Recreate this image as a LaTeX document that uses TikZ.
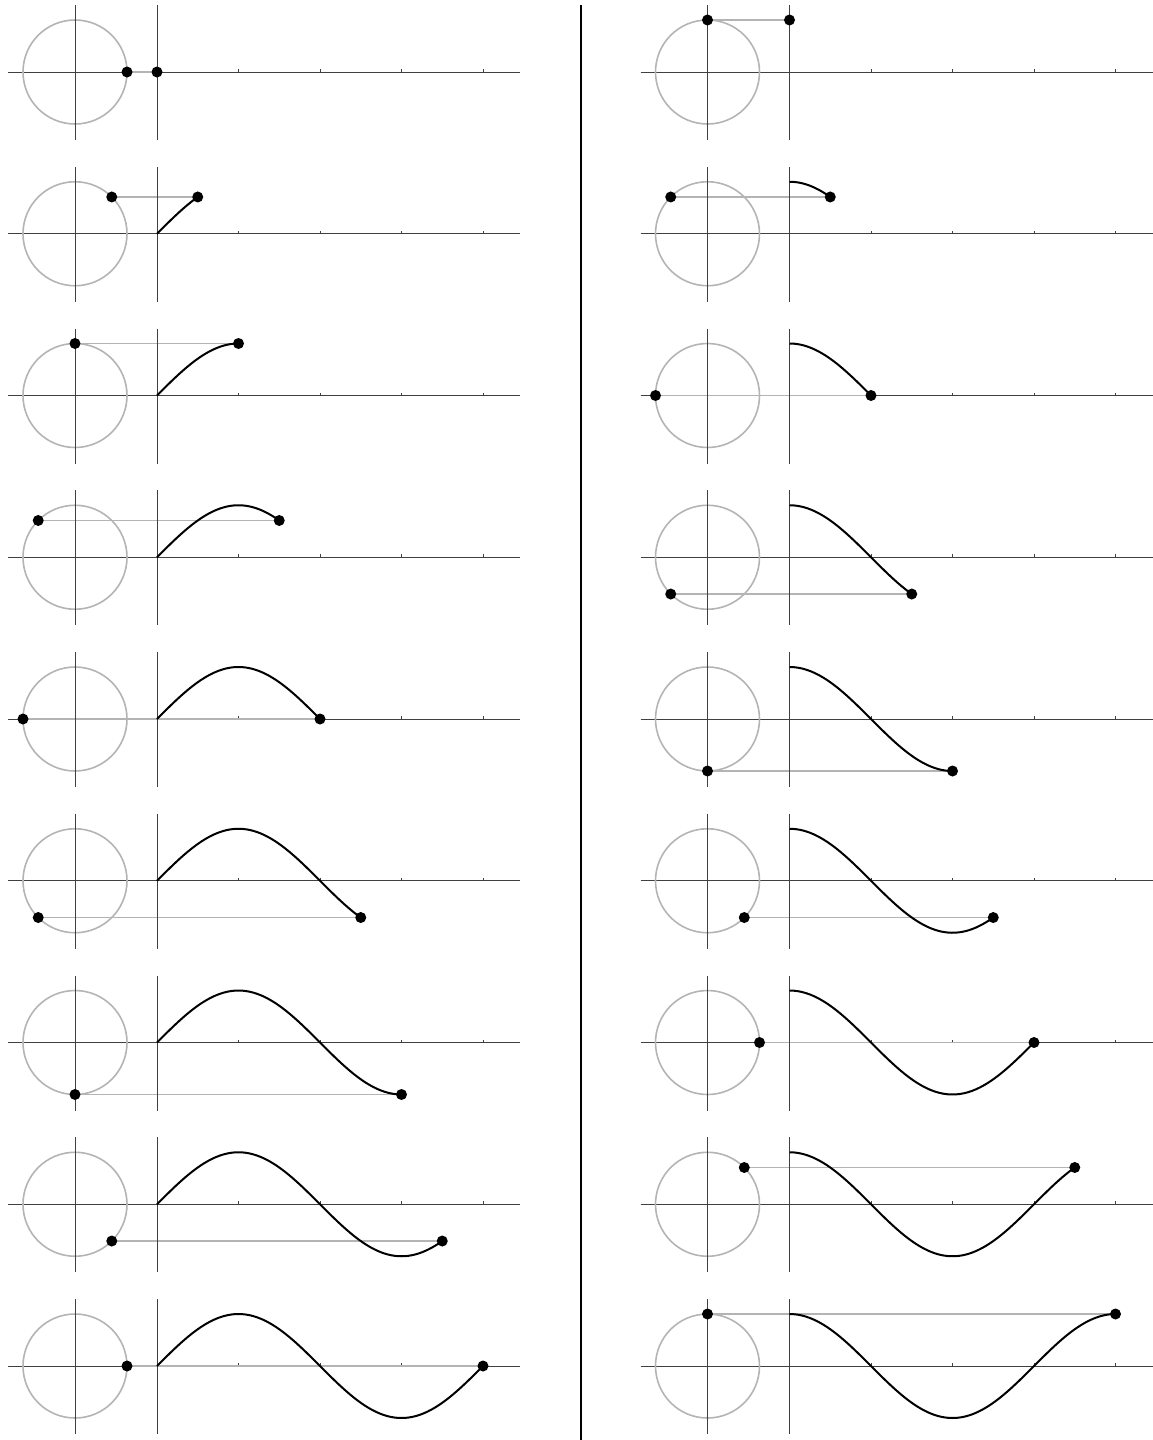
\documentclass[tikz,border=0pt]{standalone}
\usepackage{xcolor}
\definecolor{circgray}{HTML}{B4B4B4}
\definecolor{axisgray}{HTML}{404040}
\usetikzlibrary{calc}

\begin{document}
\begin{tikzpicture}[x=0.5pt,y=-0.5pt,
  axis/.style={draw=axisgray,line width=0.5pt},
  unitcirc/.style={draw=circgray,line width=0.8pt},
  proj/.style={draw=circgray,line width=0.8pt},
  wave/.style={draw=black,line width=1pt},
  dot/.style={fill=black}]
\useasboundingbox (0,0) rectangle (1152,1440);
\draw[line width=1.25pt] (581,5) -- (581,1440);
% left column: sine, right column: cosine
\foreach \col/\phase in {0/0,1/90}{
  \foreach \k in {0,...,8}{
    \pgfmathsetmacro{\ox}{632.5*\col}
    \pgfmathsetmacro{\oy}{72+161.75*\k}
    \pgfmathtruncatemacro{\sweep}{45*\k}
    \pgfmathsetmacro{\ang}{\phase+\sweep}
    \begin{scope}[shift={(\ox,\oy)}]
      \coordinate (centre) at (75,0);
      \coordinate (origin) at (157,0);
      \coordinate (rim) at ({75+52*cos(\ang)},{-52*sin(\ang)});
      \coordinate (trace) at ({157+\sweep*0.905556},{-52*sin(\ang)});
      \draw[axis] (8,0) -- (520,0);
      \foreach \t in {1,...,4} \draw[axis] ({157+81.5*\t},0) -- ++(0,-3);
      \draw[unitcirc] (centre) circle[radius=52];
      \draw[proj] (rim) -- (trace);
      \draw[axis] (75,-67) -- (75,68);
      \draw[axis] (157,-67) -- (157,68);
      \ifnum\k>0
        \draw[wave] plot[domain=0:\sweep,samples=60,smooth]
          ({157+\x*0.905556},{-52*sin(\x+\phase)});
      \fi
      \fill[dot] (rim) circle[radius=5.5];
      \fill[dot] (trace) circle[radius=5.5];
    \end{scope}
  }
}
\end{tikzpicture}
\end{document}
